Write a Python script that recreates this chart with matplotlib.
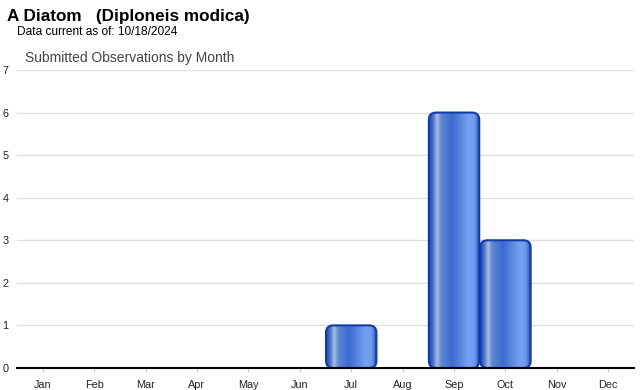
import matplotlib.pyplot as plt
import numpy as np
from matplotlib.patches import FancyBboxPatch
from matplotlib.colors import LinearSegmentedColormap

plt.rcParams['font.family'] = ['Liberation Sans', 'DejaVu Sans']

months = ["Jan", "Feb", "Mar", "Apr", "May", "Jun",
          "Jul", "Aug", "Sep", "Oct", "Nov", "Dec"]
counts = [0, 0, 0, 0, 0, 0, 1, 0, 6, 3, 0, 0]

fig = plt.figure(figsize=(6.4, 3.9), dpi=100)
ax = fig.add_axes([17/640, 1-368/390, (634-17)/640, (368-70)/390])

ax.set_xlim(-0.5, len(months) - 0.5)
ax.set_ylim(0, 7)

# cylinder-like horizontal gradient
grad = LinearSegmentedColormap.from_list("cyl", [
    (0.0, "#1c48b0"), (0.08, "#4a72c8"), (0.16, "#a9bce0"),
    (0.24, "#5f86d4"), (0.45, "#3c6ad0"), (0.78, "#77a2f2"),
    (0.90, "#6d98ec"), (1.0, "#1c48b0")])
row = np.linspace(0, 1, 256)[None, :]

w = 0.98
for i, v in enumerate(counts):
    if v <= 0:
        continue
    x0 = i - w / 2
    patch = FancyBboxPatch((x0, 0), w, v,
                           boxstyle="round,pad=0,rounding_size=0.14",
                           mutation_aspect=7 / 298 * 617 / 12,
                           facecolor="none", edgecolor="#0f3ca5",
                           linewidth=1.5, zorder=3)
    ax.add_patch(patch)
    im = ax.imshow(row, cmap=grad, aspect="auto",
                   extent=(x0, x0 + w, 0, v), zorder=2)
    im.set_clip_path(patch)

ax.set_xticks(range(len(months)))
ax.set_xticklabels(months, fontsize=7.8, color="#222222")
ax.set_yticks(range(0, 8))
ax.tick_params(axis="x", length=3, color="#cccccc", pad=6)
ax.tick_params(axis="y", length=0, labelsize=7.8, labelcolor="#222222", pad=6)
ax.grid(axis="y", color="#e0e0e0", linewidth=1, zorder=0)
ax.set_axisbelow(True)
for s in ["top", "right", "left"]:
    ax.spines[s].set_visible(False)
ax.spines["bottom"].set_linewidth(1.5)
ax.spines["bottom"].set_zorder(4)

fig.text(7/640, 1-16/390, "A Diatom   (Diploneis modica)", fontsize=12.3,
         fontweight="bold", va="center", ha="left")
fig.text(17/640, 1-32/390, "Data current as of: 10/18/2024", fontsize=8.6,
         va="center", ha="left")
fig.text(25/640, 1-58/390, "Submitted Observations by Month", fontsize=10,
         color="#444444", va="center", ha="left")

fig.savefig("out.png", dpi=100)
